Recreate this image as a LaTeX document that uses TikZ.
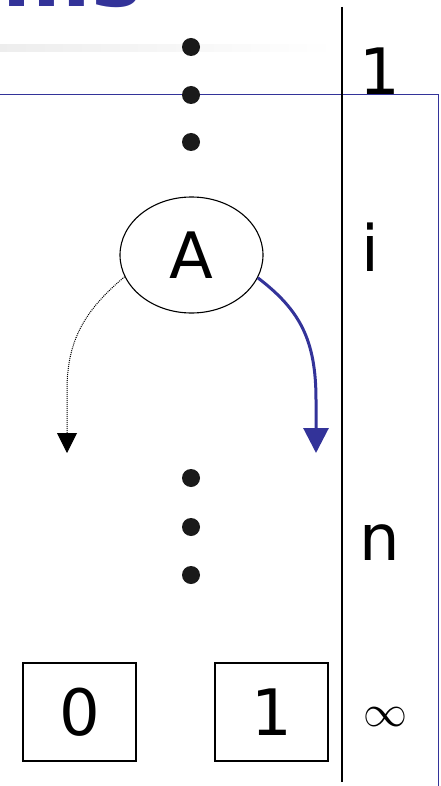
\documentclass[tikz,border=0pt]{standalone}
\usepackage{fontspec}
\usepackage{graphicx}
\setmainfont{DejaVu Sans}
\usetikzlibrary{shapes.geometric,arrows.meta}
\definecolor{slideblue}{HTML}{333399}
\definecolor{dotgray}{HTML}{1A1A1A}
\tikzset{
  dotnode/.style={circle,fill=dotgray,inner sep=0pt,minimum size=18pt},
  lbl/.style={font=\fontsize{64}{64}\selectfont,inner sep=0pt,anchor=base},
  leafbox/.style={draw,line width=1.3pt,minimum width=113pt,minimum height=98pt,inner sep=0pt,font=\fontsize{64}{64}\selectfont},
}
\begin{document}
\begin{tikzpicture}[x=1pt,y=-1pt]
\useasboundingbox (0,0) rectangle (441,786);
\begin{scope}
\clip (0,0) rectangle (441,786);
% title fragment
\node[font=\fontsize{85}{85}\selectfont\bfseries,text=slideblue,inner sep=0pt,anchor=base east] (title) at (142,6.5) {ms};
% faint gradient rule
\shade[left color=black!7,right color=white] (0,44.5) rectangle (335,51.5);
% blue frame
\draw[slideblue,line width=1pt] (0,95) -- (438,95) -- (438,790);
% black separator
\draw[line width=1.2pt] (342,7) -- (342,782);
\end{scope}
% dots
\node[dotnode] (d1) at (191,47) {};
\node[dotnode] (d2) at (191,95) {};
\node[dotnode] (d3) at (191,142) {};
\node[dotnode] (d4) at (191,478) {};
\node[dotnode] (d5) at (191,527) {};
\node[dotnode] (d6) at (191,575) {};
% node A
\node[ellipse,draw,line width=1.1pt,minimum width=143pt,minimum height=116pt,inner sep=0pt,font=\fontsize{64}{64}\selectfont] (A) at (191.5,255) {A};
% leaves
\node[leafbox] (zero) at (79.5,712) {0};
\node[leafbox] (one) at (271.5,712) {1};
% level labels
\node[lbl] (l1) at (380,95) {1};
\node[lbl] (li) at (370,271) {i};
\node[lbl] (ln) at (380,560) {n};
\node[inner sep=0pt] (linf) at (385,717) {\scalebox{4.4}{$\infty$}};
% arrow ends
\coordinate (lend) at (67,453);
\coordinate (rend) at (316,453);
% arrows
\draw[line width=1pt,dash pattern=on 1pt off 1pt,-{Triangle[width=20pt,length=20pt]}]
  (A.198) .. controls (85,310) and (67,340) .. (67,390) -- (lend);
\draw[slideblue,line width=3pt,-{Triangle[width=25pt,length=25pt]}]
  (A.341) .. controls (300,310) and (316,340) .. (316,400) -- (rend);
\end{tikzpicture}
\end{document}
